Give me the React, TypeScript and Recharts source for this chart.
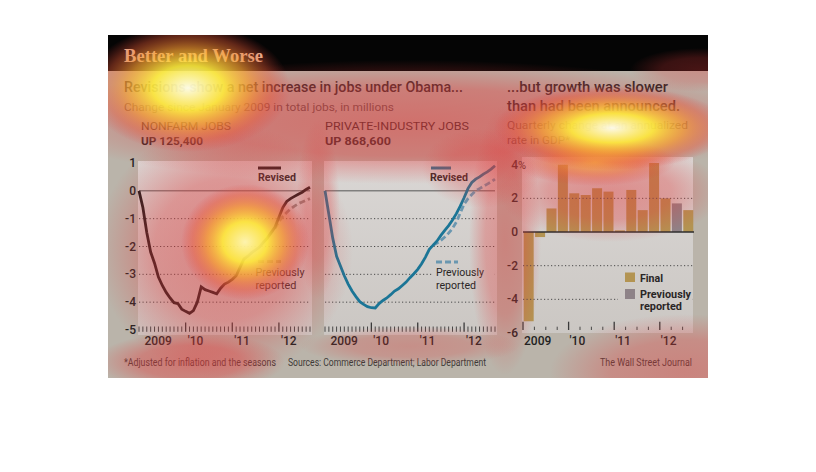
import React from "react";
import { Bar, BarChart, Line, LineChart, ReferenceLine, XAxis, YAxis } from "recharts";

// months Jan 2009 .. Sep 2012, change since Jan 2009 in millions
const yearLabels = ["2009", "'10", "'11", "'12"];

const nonfarmRevised = [
  0, -0.6, -1.5, -2.2, -2.6, -3.1, -3.4, -3.65, -3.85, -4.02, -4.05, -4.25,
  -4.33, -4.4, -4.3, -4.0, -3.45, -3.55, -3.6, -3.65, -3.7, -3.5, -3.35, -3.28,
  -3.18, -3.05, -2.75, -2.45, -2.35, -2.22, -2.12, -2.02, -1.85, -1.7, -1.5, -1.3,
  -0.95, -0.6, -0.38, -0.28, -0.2, -0.12, -0.05, 0.05, 0.13,
];
const nonfarmPrevious = [
  null, null, null, null, null, null, null, null, null, null, null, null,
  null, null, null, null, null, null, null, null, null, null, null, null,
  null, null, null, null, null, null, null, null, -1.85, -1.7, -1.5, -1.35,
  -1.1, -0.92, -0.78, -0.65, -0.55, -0.46, -0.4, -0.34, -0.28,
];
const privateRevised = [
  0, -0.85, -1.7, -2.35, -2.7, -3.05, -3.35, -3.6, -3.8, -3.98, -4.08, -4.16,
  -4.2, -4.21, -4.05, -3.94, -3.85, -3.73, -3.6, -3.52, -3.4, -3.28, -3.12, -2.98,
  -2.82, -2.62, -2.38, -2.1, -1.95, -1.8, -1.6, -1.42, -1.25, -1.05, -0.82, -0.55,
  -0.25, 0.08, 0.3, 0.42, 0.5, 0.6, 0.68, 0.78, 0.9,
];
const privatePrevious = [
  null, null, null, null, null, null, null, null, null, null, null, null,
  null, null, null, null, null, null, null, null, null, null, null, null,
  null, null, null, null, -1.95, -1.88, -1.78, -1.66, -1.52, -1.35, -1.12, -0.8,
  -0.48, -0.28, -0.13, 0.0, 0.08, 0.16, 0.24, 0.32, 0.42,
];

const quarters = [
  "2009 Q1", "2009 Q2", "2009 Q3", "2009 Q4", "2010 Q1", "2010 Q2", "2010 Q3", "2010 Q4",
  "2011 Q1", "2011 Q2", "2011 Q3", "2011 Q4", "2012 Q1", "2012 Q2 prev", "2012 Q2",
];
const gdpFinal = [-5.3, -0.3, 1.4, 4.0, 2.3, 2.2, 2.6, 2.4, 0.1, 2.5, 1.3, 4.1, 2.0, null, 1.3];
const gdpPrevious = [null, null, null, null, null, null, null, null, null, null, null, null, null, 1.7, null];

const jobTicksY = [-5, -4, -3, -2, -1, 0, 1];
const gdpTicksY = [-6, -4, -2, 0, 2, 4];

const nonfarmRows = nonfarmRevised.map((v, i) => ({ m: i, rev: v, prev: nonfarmPrevious[i] }));
const privateRows = privateRevised.map((v, i) => ({ m: i, rev: v, prev: privatePrevious[i] }));
const gdpRows = quarters.map((q, i) => ({ q, fin: gdpFinal[i], prev: gdpPrevious[i] }));
const monthTicks = nonfarmRevised.map((_, i) => i);

const FONT = "Roboto, 'Open Sans', Arial, sans-serif";
const INK = "#2a2626";
const TAN = "#b39452";
const GRAY_BAR = "#8e8388";

function MonthTick(props: any) {
  const { x, y, payload } = props;
  const m = payload.value as number;
  const major = m > 0 && m % 12 === 0;
  const label = m % 12 === 0 ? yearLabels[m / 12] : null;
  return (
    <g>
      <line x1={x} x2={x} y1={y - (major ? 7.5 : 3.5)} y2={y + 1.8} stroke="#3a3a3a" strokeWidth={major ? 1.3 : 0.9} />
      {label && (
        <text x={x + (m === 0 ? 5.5 : 2)} y={y + 15} fontSize={12} fontWeight={500} fill="#222" fontFamily={FONT}>
          {label}
        </text>
      )}
    </g>
  );
}

function QuarterTick(props: any) {
  const { x, y, index } = props;
  const left = x - 5.7;
  const major = index % 4 === 0;
  return (
    <g>
      <line x1={left} x2={left} y1={y - (major ? 11.3 : 6.3)} y2={y - 3} stroke="#3a3a3a" strokeWidth={major ? 1.3 : 0.9} />
      {major && (
        <text x={left + 1} y={y + 12} fontSize={12} fontWeight={500} fill="#222" fontFamily={FONT}>
          {yearLabels[index / 4]}
        </text>
      )}
    </g>
  );
}

function JobYTick(props: any) {
  const { x, y, payload } = props;
  return (
    <text x={x} y={y + 4} textAnchor="end" fontSize={12} fontWeight={500} fill="#222" fontFamily={FONT}>
      {payload.value}
    </text>
  );
}

function GdpYTick(props: any) {
  const { x, y, payload } = props;
  return (
    <g>
      <text x={x} y={y + 4} textAnchor="end" fontSize={12} fontWeight={500} fill="#222" fontFamily={FONT}>
        {payload.value}
      </text>
      {payload.value === 4 && (
        <text x={x} y={y + 4} fontSize={11} fill="#222" fontFamily={FONT}>
          %
        </text>
      )}
    </g>
  );
}

function JobsPanel({ rows, color, prevColor, showY }: any) {
  return (
    <LineChart
      width={showY ? 210 : 190}
      height={200}
      data={rows}
      margin={showY ? { top: 13, right: 8, left: 0, bottom: 0 } : { top: 13, right: 13, left: 7, bottom: 0 }}
    >
      <XAxis
        dataKey="m"
        type="number"
        domain={[0, 44]}
        ticks={monthTicks}
        interval={0}
        height={20}
        axisLine={false}
        tickLine={false}
        tickSize={0}
        tickMargin={0}
        tick={(p: any) => <MonthTick {...p} />}
      />
      <YAxis
        hide={!showY}
        width={31}
        domain={[-5, 1]}
        ticks={jobTicksY}
        interval={0}
        axisLine={false}
        tickLine={false}
        tickSize={0}
        tickMargin={3}
        tick={(p: any) => <JobYTick {...p} />}
      />
      {[-1, -2, -3, -4].map((v) => (
        <ReferenceLine key={v} y={v} stroke="#4a4a4a" strokeDasharray="1.2 2.3" strokeWidth={1} />
      ))}
      <ReferenceLine y={0} stroke="#555" strokeWidth={1} />
      <Line dataKey="prev" stroke={prevColor} strokeWidth={2.8} strokeDasharray="6 3" dot={false} activeDot={false} isAnimationActive={false} type="linear" />
      <Line dataKey="rev" stroke={color} strokeWidth={2.8} dot={false} activeDot={false} isAnimationActive={false} type="linear" />
    </LineChart>
  );
}

function T({ x, y, w, size = 11.5, weight = 400, fill = INK, family = FONT, children }: any) {
  return (
    <text
      x={x}
      y={y}
      textLength={w}
      lengthAdjust="spacingAndGlyphs"
      fontSize={size}
      fontWeight={weight}
      fill={fill}
      fontFamily={family}
    >
      {children}
    </text>
  );
}

function HeatGrad({ id, core }: { id: string; core: string }) {
  return (
    <radialGradient id={id}>
      <stop offset="0" stopColor={core} stopOpacity={0.95} />
      <stop offset="0.35" stopColor="#ffec3c" stopOpacity={0.9} />
      <stop offset="0.6" stopColor="#f8a030" stopOpacity={0.7} />
      <stop offset="0.82" stopColor="#ec5a34" stopOpacity={0.4} />
      <stop offset="1" stopColor="#e23a3a" stopOpacity={0} />
    </radialGradient>
  );
}

function RedGrad({ id, a }: { id: string; a: number }) {
  return (
    <radialGradient id={id}>
      <stop offset="0" stopColor="#e23a3a" stopOpacity={a} />
      <stop offset="0.55" stopColor="#e23a3a" stopOpacity={a * 0.8} />
      <stop offset="1" stopColor="#e23a3a" stopOpacity={0} />
    </radialGradient>
  );
}

// [cx, cy, rx, ry, gradient]
const redSpots: [number, number, number, number, string][] = [
  [408, 122, 370, 62, "r55"],
  [225, 250, 128, 128, "r50"],
  [505, 240, 36, 135, "r40"],
  [318, 210, 22, 90, "r30"],
  [190, 362, 95, 30, "r50"],
  [685, 372, 135, 58, "r40"],
  [610, 192, 112, 50, "r45"],
  [482, 168, 60, 40, "r30"],
  [410, 346, 110, 20, "r30"],
  [700, 70, 70, 22, "r30"],
];

export default function App() {
  return (
    <div style={{ position: "absolute", left: 0, top: 0, width: 816, height: 472, background: "#fff", overflow: "hidden" }}>
      <svg width={816} height={472} style={{ position: "absolute", left: 0, top: 0 }}>
        <defs>
          <linearGradient id="panelBg" gradientUnits="userSpaceOnUse" x1="0" y1="157" x2="0" y2="335">
            <stop offset="0" stopColor="#dad7d5" />
            <stop offset="1" stopColor="#cbc7c3" />
          </linearGradient>
        </defs>
        <rect x={108} y={35} width={600} height={343} fill="#bab4aa" />
        <rect x={108} y={35} width={600} height={36} fill="#050505" />
        <rect x={138} y={161} width={174} height={174} fill="url(#panelBg)" />
        <rect x={324} y={161} width={173} height={174} fill="url(#panelBg)" />
        <rect x={522} y={157} width={171} height={176} fill="url(#panelBg)" />
      </svg>

      <div style={{ position: "absolute", left: 108, top: 150 }}>
        <JobsPanel rows={nonfarmRows} color="#1a1a1a" prevColor="#8f8580" showY />
      </div>
      <div style={{ position: "absolute", left: 318, top: 150 }}>
        <JobsPanel rows={privateRows} color="#1b7596" prevColor="#6a97b0" showY={false} />
      </div>
      <div style={{ position: "absolute", left: 495, top: 150 }}>
        <BarChart width={213} height={200} data={gdpRows} margin={{ top: 13, right: 14, left: 0, bottom: 0 }} barCategoryGap="6%">
          <XAxis
            dataKey="q"
            height={17}
            interval={0}
            axisLine={false}
            tickLine={false}
            tickSize={0}
            tickMargin={0}
            tick={(p: any) => <QuarterTick {...p} />}
          />
          <YAxis
            width={28}
            domain={[-6, 4]}
            ticks={gdpTicksY}
            interval={0}
            axisLine={false}
            tickLine={false}
            tickSize={0}
            tickMargin={5}
            tick={(p: any) => <GdpYTick {...p} />}
          />
          {[2, -2, -4].map((v) => (
            <ReferenceLine key={v} y={v} stroke="#4a4a4a" strokeDasharray="1.2 2.3" strokeWidth={1} />
          ))}
          <Bar dataKey="fin" stackId="g" fill={TAN} isAnimationActive={false} />
          <Bar dataKey="prev" stackId="g" fill={GRAY_BAR} isAnimationActive={false} />
          <ReferenceLine y={0} stroke="#2e2e2e" strokeWidth={1.6} />
        </BarChart>
      </div>

      <svg width={816} height={472} style={{ position: "absolute", left: 0, top: 0, pointerEvents: "none" }}>
        <T x={124} y={61.5} w={139} size={19} weight={700} fill="#e6c7a4" family="'Liberation Serif', 'DejaVu Serif', serif">
          Better and Worse
        </T>
        <T x={124} y={92} w={339} size={15.5} weight={500}>Revisions show a net increase in jobs under Obama...</T>
        <T x={124} y={111} w={270} size={11.5} fill="#5a504c">Change since January 2009 in total jobs, in millions</T>
        <T x={141} y={130} w={90}>NONFARM JOBS</T>
        <T x={141} y={145} w={62} weight={700}>UP 125,400</T>
        <T x={325} y={130} w={144}>PRIVATE-INDUSTRY JOBS</T>
        <T x={325} y={145} w={66} weight={700}>UP 868,600</T>
        <T x={507} y={92} w={161} size={15.5} weight={500}>...but growth was slower</T>
        <T x={507} y={110.5} w={173} size={15.5} weight={500}>than had been announced.</T>
        <T x={507} y={129} w={181} fill="#5a504c">Quarterly change at an annualized</T>
        <T x={507} y={144} w={63} fill="#5a504c">rate in GDP*</T>

        {/* nonfarm legend */}
        <line x1={258} x2={281} y1={168} y2={168} stroke="#1a1a1a" strokeWidth={3} />
        <T x={258} y={180.5} w={38} size={11} weight={700}>Revised</T>
        <rect x={252} y={256} width={58} height={36} fill="url(#panelBg)" />
        <line x1={258} x2={281} y1={261.5} y2={261.5} stroke="#8f8580" strokeWidth={3} strokeDasharray="6 3" />
        <T x={255.5} y={276} w={49} size={11.5}>Previously</T>
        <T x={255.5} y={288.5} w={41} size={11.5}>reported</T>

        {/* private legend */}
        <line x1={431} x2={451} y1={168} y2={168} stroke="#1b7596" strokeWidth={3} />
        <T x={430} y={180.5} w={38} size={11} weight={700}>Revised</T>
        <rect x={432} y={256} width={62} height={36} fill="url(#panelBg)" />
        <line x1={436} x2={458} y1={262} y2={262} stroke="#6a97b0" strokeWidth={3} strokeDasharray="6 3" />
        <T x={436} y={276} w={48} size={11.5}>Previously</T>
        <T x={436} y={288.5} w={40} size={11.5}>reported</T>

        {/* gdp legend */}
        <rect x={618} y={268} width={74} height={44} fill="url(#panelBg)" />
        <rect x={625} y={272.5} width={10} height={9.5} fill={TAN} />
        <T x={640} y={282} w={23} size={10.5} weight={700}>Final</T>
        <rect x={625} y={289} width={10} height={10} fill={GRAY_BAR} />
        <T x={640} y={297.5} w={51} size={10} weight={700}>Previously</T>
        <T x={640} y={309.5} w={42} size={10} weight={700}>reported</T>

        <T x={124} y={366} w={152} size={10} fill="#3e3a38">*Adjusted for inflation and the seasons</T>
        <T x={288} y={366} w={198} size={10} fill="#3e3a38">Sources: Commerce Department; Labor Department</T>
        <T x={600} y={366} w={92} size={10} fill="#3e3a38">The Wall Street Journal</T>
      </svg>

      {/* attention heat overlay */}
      <svg width={816} height={472} style={{ position: "absolute", left: 0, top: 0, pointerEvents: "none" }}>
        <defs>
          <clipPath id="frame">
            <rect x={108} y={35} width={600} height={343} />
          </clipPath>
          <RedGrad id="r55" a={0.55} />
          <RedGrad id="r50" a={0.5} />
          <RedGrad id="r45" a={0.45} />
          <RedGrad id="r40" a={0.4} />
          <RedGrad id="r30" a={0.3} />
          <HeatGrad id="hA" core="#ffffe8" />
          <HeatGrad id="hB" core="#ffffee" />
          <HeatGrad id="hC" core="#fff8b0" />
          <radialGradient id="hTop">
            <stop offset="0" stopColor="#ffc834" stopOpacity={0.7} />
            <stop offset="0.55" stopColor="#f07034" stopOpacity={0.45} />
            <stop offset="1" stopColor="#e23a3a" stopOpacity={0} />
          </radialGradient>
        </defs>
        <g clipPath="url(#frame)">
          {redSpots.map(([cx, cy, rx, ry, g], i) => (
            <ellipse key={i} cx={cx} cy={cy} rx={rx} ry={ry} fill={`url(#${g})`} />
          ))}
          <ellipse cx={595} cy={162} rx={80} ry={24} fill="url(#hTop)" />
          <ellipse cx={188} cy={88} rx={102} ry={64} fill="url(#hA)" />
          <ellipse cx={612} cy={128} rx={118} ry={42} fill="url(#hB)" />
          <ellipse cx={245} cy={242} rx={64} ry={58} fill="url(#hC)" />
        </g>
      </svg>
    </div>
  );
}
